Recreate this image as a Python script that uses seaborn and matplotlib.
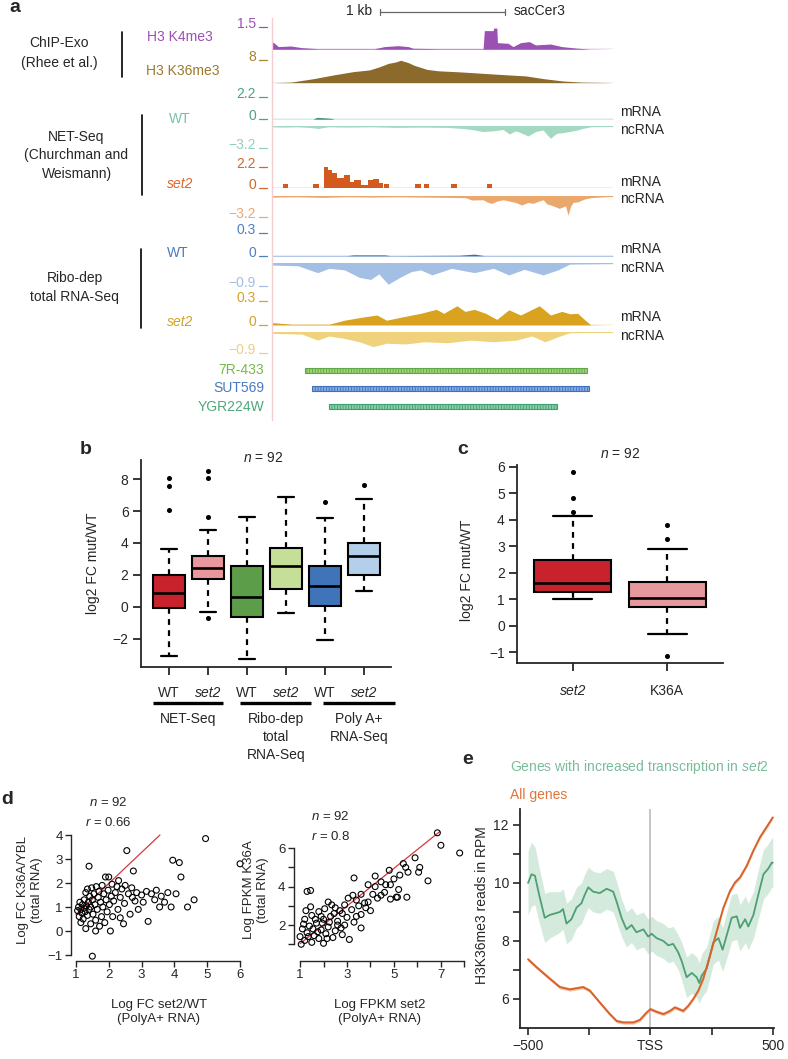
import numpy as np
import pandas as pd
import matplotlib
matplotlib.use("Agg")
import matplotlib.pyplot as plt
import matplotlib.transforms as mtransforms
from matplotlib.lines import Line2D
import seaborn as sns

sns.set_style("ticks")
plt.rcParams['font.family'] = ['Liberation Sans', 'DejaVu Sans']
plt.rcParams['mathtext.fontset'] = 'custom'
plt.rcParams['mathtext.rm'] = 'Liberation Sans'
plt.rcParams['mathtext.it'] = 'Liberation Sans:italic'
plt.rcParams['axes.linewidth'] = 1.3
plt.rcParams['xtick.major.width'] = 1.2
plt.rcParams['ytick.major.width'] = 1.2
plt.rcParams['hatch.linewidth'] = 0.6

# ---------------- data: panel a (genome browser tracks, positions in kb) ----------------
k4me3_kb = [0.00, 0.02, 0.05, 0.15, 0.24, 0.37, 0.82, 0.90, 1.01, 1.09, 1.13, 1.35, 1.69, 1.70,
            1.77, 1.775, 1.80, 1.805, 1.89, 1.93, 1.99, 2.06, 2.11, 2.23, 2.32, 2.45, 2.54, 2.73]
k4me3_val = [0.51, 0.40, 0.18, 0.22, 0.11, 0.04, 0.04, 0.18, 0.24, 0.18, 0.07, 0.04, 0.04, 1.24,
             1.24, 1.41, 1.41, 0.44, 0.40, 0.18, 0.44, 0.51, 0.29, 0.35, 0.18, 0.07, 0.02, 0.00]
k36me3_kb = [0.00, 0.15, 0.33, 0.50, 0.65, 0.78, 0.86, 0.93, 0.99, 1.03, 1.09, 1.14, 1.24, 1.33,
             1.51, 1.69, 1.87, 2.03, 2.18, 2.33, 2.48, 2.63, 2.73]
k36me3_val = [0.0, 0.2, 1.4, 2.8, 3.9, 4.5, 5.6, 6.8, 7.3, 7.9, 7.1, 6.1, 4.7, 4.2,
              3.8, 3.3, 2.8, 2.4, 1.4, 0.6, 0.2, 0.1, 0.0]
net_wt_pos_kb = [0.0, 0.33, 0.36, 0.42, 0.47, 0.50, 2.73]
net_wt_pos_val = [0.02, 0.02, 0.20, 0.15, 0.10, 0.02, 0.02]
net_wt_neg_kb = [0.0, 0.10, 0.20, 0.30, 0.37, 0.45, 0.60, 0.80, 1.00, 1.20, 1.40, 1.51, 1.60, 1.69,
                 1.78, 1.85, 1.90, 1.95, 1.99, 2.05, 2.11, 2.17, 2.20, 2.23, 2.26, 2.28, 2.33, 2.39,
                 2.44, 2.48, 2.55, 2.73]
net_wt_neg_val = [-0.1, -0.15, -0.1, -0.2, -0.35, -0.1, -0.15, -0.1, -0.2, -0.15, -0.2, -0.33, -0.5,
                  -0.8, -0.67, -0.5, -1.15, -0.7, -0.95, -1.43, -0.8, -0.57, -1.2, -1.77, -1.3,
                  -1.05, -0.95, -0.76, -0.6, -0.38, -0.1, -0.05]
net_set2_pos_kb = [0.0, 0.09, 0.13, 0.33, 0.38, 0.42, 0.45, 0.48, 0.52, 0.58, 0.625, 0.655, 0.715,
                   0.765, 0.81, 0.855, 0.885, 0.90, 0.94, 1.145, 1.19, 1.215, 1.255, 1.435, 1.485,
                   1.72, 1.76, 2.73]
net_set2_pos_val = [0, 0.38, 0, 0.38, 0, 2.2, 1.85, 1.5, 0.98, 1.33, 0.63, 0.8, 0.28, 0.8, 0.87,
                    0.52, 0, 0.35, 0, 0.35, 0, 0.35, 0, 0.35, 0, 0.35, 0, 0]
net_set2_neg_kb = [0.0, 0.2, 0.4, 0.6, 0.8, 1.0, 1.2, 1.4, 1.55, 1.60, 1.69, 1.73, 1.76, 1.80, 1.85,
                   1.90, 1.95, 2.0, 2.05, 2.09, 2.12, 2.17, 2.20, 2.25, 2.30, 2.35, 2.37, 2.39, 2.41,
                   2.45, 2.50, 2.55, 2.73]
net_set2_neg_val = [-0.2, -0.15, -0.25, -0.15, -0.2, -0.15, -0.2, -0.25, -0.3, -0.64, -0.6, -1.0,
                    -1.13, -0.8, -0.6, -0.8, -1.0, -1.38, -1.0, -1.13, -0.9, -0.6, -1.2, -1.5, -1.87,
                    -1.5, -2.9, -1.6, -1.0, -0.9, -0.5, -0.3, -0.05]
ribo_wt_pos_kb = [0.0, 0.6, 0.65, 0.9, 0.95, 1.5, 1.62, 1.7, 2.73]
ribo_wt_pos_val = [0.005, 0.005, 0.015, 0.015, 0.005, 0.01, 0.025, 0.005, 0.005]
ribo_wt_neg_kb = [0.0, 0.21, 0.30, 0.365, 0.457, 0.58, 0.70, 0.79, 0.855, 0.93, 1.023, 1.115, 1.19,
                  1.28, 1.437, 1.62, 1.773, 1.896, 2.02, 2.17, 2.29, 2.385, 2.73]
ribo_wt_neg_val = [-0.07, -0.1, -0.26, -0.37, -0.2, -0.26, -0.56, -0.64, -0.42, -0.83, -0.56, -0.33,
                   -0.26, -0.46, -0.2, -0.37, -0.2, -0.46, -0.24, -0.46, -0.26, -0.03, -0.01]
ribo_set2_pos_kb = [0.0, 0.16, 0.457, 0.58, 0.73, 0.84, 0.917, 1.04, 1.19, 1.315, 1.375, 1.48, 1.545,
                    1.62, 1.71, 1.80, 1.896, 1.99, 2.14, 2.23, 2.32, 2.385, 2.447, 2.508, 2.55, 2.73]
ribo_set2_pos_val = [0.03, 0.01, 0.01, 0.06, 0.10, 0.125, 0.06, 0.10, 0.146, 0.196, 0.146, 0.24,
                     0.17, 0.196, 0.146, 0.07, 0.19, 0.125, 0.24, 0.125, 0.17, 0.14, 0.146, 0.06,
                     0.004, 0.0]
ribo_set2_neg_kb = [0.0, 0.24, 0.365, 0.457, 0.58, 0.70, 0.81, 0.917, 1.07, 1.22, 1.406, 1.59, 1.773,
                    1.957, 2.08, 2.186, 2.29, 2.385, 2.73]
ribo_set2_neg_val = [-0.07, -0.1, -0.35, -0.18, -0.28, -0.42, -0.62, -0.48, -0.51, -0.42, -0.46,
                     -0.35, -0.42, -0.35, -0.18, -0.42, -0.21, -0.04, -0.01]
gene_names = ["7R-433", "SUT569", "YGR224W"]
gene_start_kb = [0.264, 0.320, 0.456]
gene_end_kb = [2.52, 2.54, 2.28]
region_kb = 2.73
scalebar_kb = (0.864, 1.864)

# ---------------- data: panel b / c (box statistics) ----------------
b_labels = ["WT", "set2", "WT", "set2", "WT", "set2"]
b_groups = ["NET-Seq", "Ribo-dep\ntotal\nRNA-Seq", "Poly A+\nRNA-Seq"]
b_q1 = [-0.10, 1.72, -0.67, 1.10, 0.03, 1.99]
b_med = [0.88, 2.40, 0.63, 2.58, 1.30, 3.20]
b_q3 = [1.99, 3.20, 2.58, 3.67, 2.55, 4.00]
b_whislo = [-3.07, -0.35, -3.30, -0.42, -2.10, 1.00]
b_whishi = [3.60, 4.82, 5.60, 6.87, 5.55, 6.77]
b_fliers = [[6.1, 7.6, 8.1], [-0.7, 5.6, 8.1, 8.55], [], [], [6.55], [7.65]]

c_labels = ["set2", "K36A"]
c_q1 = [1.28, 0.69]
c_med = [1.62, 1.03]
c_q3 = [2.48, 1.66]
c_whislo = [1.00, -0.30]
c_whishi = [4.15, 2.88]
c_fliers = [[4.3, 4.8, 5.8], [3.28, 3.8, -1.13]]

# ---------------- data: panel d (scatter) ----------------
d1_x = [1.05, 1.08, 1.10, 1.12, 1.15, 1.18, 1.20, 1.22, 1.25, 1.25, 1.28, 1.30, 1.32, 1.35, 1.35,
        1.38, 1.40, 1.40, 1.42, 1.45, 1.45, 1.48, 1.50, 1.50, 1.52, 1.55, 1.58, 1.60, 1.62, 1.65,
        1.68, 1.70, 1.72, 1.75, 1.78, 1.80, 1.82, 1.85, 1.88, 1.90, 1.92, 1.95, 1.98, 2.00, 2.02,
        2.05, 2.08, 2.10, 2.12, 2.15, 2.20, 2.25, 2.28, 2.30, 2.35, 2.40, 2.45, 2.48, 2.50, 2.55,
        2.60, 2.65, 2.70, 2.72, 2.75, 2.80, 2.85, 2.90, 3.00, 3.05, 3.15, 3.20, 3.30, 3.40, 3.45,
        3.55, 3.60, 3.70, 3.80, 3.90, 3.95, 4.05, 4.15, 4.20, 4.40, 4.60, 4.95, 6.00, 1.15, 1.30,
        1.60, 2.35]
d1_y = [0.85, 1.00, 0.60, 1.20, 0.90, 0.75, 1.10, 0.50, 1.30, 0.95, 0.80, 1.60, 1.05, 0.65, 1.75,
        1.20, 0.90, 2.70, 1.45, 0.30, 1.00, 1.80, -1.05, 1.30, 0.70, 1.55, 1.10, 0.45, 1.85, 0.90,
        1.40, 1.65, 0.20, 1.20, 0.60, 1.90, 1.00, 1.55, 0.35, 2.25, 1.30, 0.80, 1.70, 2.25, 1.10,
        0.00, 1.45, 1.95, 0.60, 1.25, 1.60, 1.85, 0.90, 2.10, 1.40, 1.75, 0.30, 1.15, 1.90, 3.35,
        1.55, 0.70, 1.80, 1.40, 2.50, 1.25, 1.60, 0.90, 1.50, 1.20, 1.65, 0.40, 1.55, 1.30, 1.70,
        1.00, 1.45, 1.20, 1.60, 1.00, 2.95, 1.55, 2.85, 2.25, 1.00, 1.30, 3.85, 2.80, 0.35, 0.10,
        0.00, 0.55]
d1_fit = (-0.61, 1.295)   # intercept, slope
d1_fit_x = [1.0, 3.56]

d2_x = [6.85, 7.00, 7.80, 5.90, 6.10, 5.50, 5.60, 6.05, 5.25, 4.80, 6.45, 3.30, 4.20, 4.45, 4.65,
        4.85, 5.20, 1.30, 1.45, 4.10, 4.45, 5.10, 5.15, 5.55, 3.40, 4.85, 2.20, 3.90, 3.50, 2.50,
        3.20, 4.00, 1.80, 2.80, 3.60, 1.50, 2.30, 3.00, 1.20, 2.00, 2.60, 3.30, 1.70, 2.90, 1.40,
        2.20, 3.60, 1.10, 1.90, 2.50, 1.30, 2.10, 2.80, 1.60, 1.00, 2.40, 1.80, 1.20, 3.10, 1.50,
        2.00, 1.05, 2.70, 1.25, 3.75, 4.30, 2.35, 1.90, 3.05, 3.90, 5.00, 2.60, 1.55, 2.45, 3.40,
        1.15, 1.75, 2.25, 3.25, 4.60, 1.35, 2.05, 2.90, 3.60, 1.65, 2.75, 1.45, 2.15, 3.80, 1.95,
        4.20, 5.40]
d2_y = [6.80, 6.15, 5.75, 5.50, 5.00, 5.00, 4.75, 4.75, 4.60, 4.85, 4.30, 4.45, 4.00, 4.25, 4.10,
        4.10, 3.85, 3.75, 3.80, 3.60, 3.55, 3.45, 3.45, 3.45, 3.30, 3.35, 3.20, 3.20, 3.00, 2.90,
        2.80, 2.75, 2.70, 2.60, 2.55, 2.50, 2.45, 2.40, 2.30, 2.30, 2.20, 2.15, 2.10, 2.00, 1.95,
        1.90, 1.85, 1.80, 1.75, 1.70, 1.60, 1.55, 1.50, 1.45, 1.40, 1.35, 1.30, 1.20, 1.25, 1.10,
        1.05, 1.00, 2.75, 2.75, 3.15, 3.40, 3.05, 2.45, 3.40, 4.10, 4.40, 2.00, 1.80, 2.60, 2.45,
        2.05, 1.65, 2.15, 3.55, 3.70, 1.40, 2.85, 3.05, 3.60, 2.30, 1.85, 2.95, 1.30, 2.90, 2.10,
        4.55, 5.20]
d2_fit = (0.05, 0.98)
d2_fit_x = [1.0, 6.95]

# ---------------- data: panel e (metagene profiles) ----------------
e_green_x = [-500, -486, -472, -455, -432, -411, -390, -370, -357, -343, -323, -302, -282, -268,
             -254, -234, -207, -179, -152, -138, -118, -98, -77, -57, -29, -9, 5, 25, 53, 73, 93,
             114, 128, 148, 169, 189, 200, 209, 230, 257, 278, 295, 312, 332, 353, 366, 387, 400,
             421, 441, 462, 482, 496, 500]
e_green_y = [10.0, 10.3, 10.25, 9.6, 8.8, 8.9, 8.95, 9.0, 9.1, 8.6, 8.75, 9.15, 9.3, 9.6, 9.85, 9.7,
             9.65, 9.8, 9.7, 9.35, 8.8, 8.4, 8.55, 8.3, 8.4, 8.15, 8.25, 8.1, 8.0, 7.85, 7.9, 7.6,
             7.3, 6.75, 6.9, 6.75, 6.55, 6.8, 7.05, 7.95, 8.1, 7.7, 8.2, 8.8, 8.85, 8.45, 8.75, 8.5,
             8.9, 9.6, 10.3, 10.5, 10.7, 10.7]
e_green_err = [1.1, 1.1, 1.0, 0.95, 0.85, 0.8, 0.75, 0.7, 0.7, 0.7, 0.7, 0.7, 0.7, 0.7, 0.7, 0.7,
               0.7, 0.7, 0.7, 0.7, 0.65, 0.6, 0.6, 0.6, 0.6, 0.6, 0.6, 0.6, 0.6, 0.6, 0.6, 0.6,
               0.65, 0.7, 0.7, 0.7, 0.7, 0.75, 0.75, 0.75, 0.75, 0.75, 0.8, 0.8, 0.8, 0.8, 0.8,
               0.8, 0.8, 0.85, 0.85, 0.85, 0.85, 0.85]
e_orange_x = [-500, -466, -411, -370, -329, -275, -248, -207, -166, -138, -111, -70, -43, -16, 0,
              25, 53, 80, 100, 134, 155, 175, 196, 216, 244, 271, 298, 325, 346, 366, 394, 421,
              448, 475, 500]
e_orange_y = [7.37, 7.1, 6.7, 6.41, 6.33, 6.41, 6.29, 5.88, 5.48, 5.24, 5.19, 5.19, 5.28, 5.53,
              5.65, 5.56, 5.48, 5.59, 5.71, 5.59, 5.77, 6.0, 6.29, 6.7, 7.51, 8.33, 9.14, 9.72,
              10.02, 10.19, 10.6, 11.12, 11.58, 11.93, 12.26]
e_orange_err = 0.06
e_xticks = [-500, -250, 0, 250, 500]
e_xticklabels = ["\u2212500", "", "TSS", "", "500"]

# ---------------- figure helpers ----------------
W, H = 788, 1059
fig = plt.figure(figsize=(W / 100, H / 100), dpi=100)


def pax(x0, y0, x1, y1):
    ax = fig.add_axes([x0 / W, 1 - y1 / H, (x1 - x0) / W, (y1 - y0) / H])
    ax.set_facecolor('none')
    return ax


def ftext(x, y, s, **kw):
    kw.setdefault('ha', 'center')
    kw.setdefault('va', 'center')
    return fig.text(x / W, 1 - y / H, s, **kw)


def fline(xs, ys, **kw):
    fig.add_artist(Line2D([x / W for x in xs], [1 - y / H for y in ys], **kw))


FS_A = 10
# ---------------- panel a ----------------
TX0, TX1 = 272, 613
tracks = [
    # kb, val, top_px, bottom_px, ylim, fill colour, (top label, colour), (bottom label, colour)
    (k4me3_kb, k4me3_val, 26.7, 49.3, (0, 1.5), '#9b50b4', ('1.5', '#9b50b4'), None),
    (k36me3_kb, k36me3_val, 60.0, 82.7, (0, 8), '#8b6a2c', ('8', '#a5842f'), None),
    (net_wt_pos_kb, net_wt_pos_val, 97.3, 119.3, (0, 2.2), '#3f9c78', ('2.2', '#4ea382'), ('0', '#4ea382')),
    (net_wt_neg_kb, net_wt_neg_val, 126.0, 148.3, (-3.2, 0), '#a3d8c2', None, ('\u22123.2', '#93d0b9')),
    (net_set2_pos_kb, net_set2_pos_val, 166.7, 187.7, (0, 2.2), '#d35a1f', ('2.2', '#d0692f'), ('0', '#d0692f')),
    (net_set2_neg_kb, net_set2_neg_val, 195.7, 217.3, (-3.2, 0), '#eba86c', None, ('\u22123.2', '#eaa979')),
    (ribo_wt_pos_kb, ribo_wt_pos_val, 233.3, 256.0, (0, 0.3), '#3a6fb8', ('0.3', '#4f7fc1'), ('0', '#4f7fc1')),
    (ribo_wt_neg_kb, ribo_wt_neg_val, 263.3, 286.0, (-0.9, 0), '#a3c0e4', None, ('\u22120.9', '#a3bfe3')),
    (ribo_set2_pos_kb, ribo_set2_pos_val, 301.0, 325.0, (0, 0.3), '#d9a21f', ('0.3', '#d4a12a'), ('0', '#d4a12a')),
    (ribo_set2_neg_kb, ribo_set2_neg_val, 331.7, 353.3, (-0.9, 0), '#f0d27d', None, ('\u22120.9', '#eccf86')),
]
step_tracks = {id(net_set2_pos_kb)}
for kb, val, y0, y1, lim, col, toplab, botlab in tracks:
    ax = pax(TX0, y0, TX1, y1)
    step = 'post' if id(kb) in step_tracks else None
    ax.fill_between(kb, 0, val, color=col, lw=0, step=step)
    ax.axhline(0, color=col, lw=0.9)
    ax.set_xlim(0, region_kb)
    ax.set_ylim(*lim)
    ax.axis('off')
    for lab, ypx in ((toplab, y0), (botlab, y1)):
        if lab is None:
            continue
        ftext(256, ypx + 1, lab[0], ha='right', va='baseline', color=lab[1], fontsize=FS_A)
        fline([259, 267], [ypx, ypx], color=lab[1], lw=0.9)

# gene annotations
axg = pax(TX0, 361.2, TX1, 415.8)
gene_fc = ['#9fd07f', '#86a9de', '#8ccdab']
gene_ec = ['#5fa842', '#3f6fbd', '#41a070']
gene_tc = ['#78b84a', '#4a78c2', '#4ca87a']
for i, (nm, s0, s1) in enumerate(zip(gene_names, gene_start_kb, gene_end_kb)):
    axg.barh(i, s1 - s0, left=s0, height=0.3, facecolor=gene_fc[i], edgecolor=gene_ec[i],
             hatch='||||||', lw=0.8)
    ftext(264, 370.3 + 18.2 * i, nm, ha='right', color=gene_tc[i], fontsize=FS_A)
axg.set_xlim(0, region_kb)
axg.set_ylim(2.5, -0.5)
axg.axis('off')

# browser furniture
fline([271.5, 271.5], [18, 420], color='#f4cdd0', lw=1.0)
sb_px = [TX0 + (TX1 - TX0) * k / region_kb for k in scalebar_kb]
fline(sb_px, [12, 12], color='#666666', lw=0.9)
fline([sb_px[0], sb_px[0]], [9, 15], color='#666666', lw=0.9)
fline([sb_px[1], sb_px[1]], [9, 15], color='#666666', lw=0.9)
ftext(sb_px[0] - 8, 11, "1 kb", ha='right', fontsize=FS_A)
ftext(sb_px[1] + 9, 11, "sacCer3", ha='left', fontsize=FS_A)

ftext(59, 43.3, "ChIP-Exo", fontsize=FS_A)
ftext(59, 62.5, "(Rhee et al.)", fontsize=FS_A)
fline([121.7, 121.7], [31.7, 77.3], color='black', lw=1.2)
ftext(180, 36.7, "H3 K4me3", color='#9b50b4', fontsize=FS_A)
ftext(183, 70.7, "H3 K36me3", color='#9a7a2c', fontsize=FS_A)
ftext(76.5, 136.7, "NET-Seq", fontsize=FS_A)
ftext(76.5, 155.3, "(Churchman and", fontsize=FS_A)
ftext(76.5, 174, "Weismann)", fontsize=FS_A)
fline([141.6, 141.6], [115, 195], color='black', lw=1.2)
ftext(180, 119, "WT", color='#72c2a2', fontsize=FS_A)
ftext(180, 184.3, "set2", color='#d9662e', fontsize=FS_A, style='italic')
ftext(74.6, 278, "Ribo-dep", fontsize=FS_A)
ftext(74.6, 296.5, "total RNA-Seq", fontsize=FS_A)
fline([140.8, 140.8], [249.3, 328.3], color='black', lw=1.2)
ftext(178, 253.3, "WT", color='#4a78c2', fontsize=FS_A)
ftext(180, 321.7, "set2", color='#d4a12a', fontsize=FS_A, style='italic')
for ym, yn in ((112, 130), (182, 199), (249, 268), (317, 336)):
    ftext(620, ym, "mRNA", ha='left', fontsize=FS_A)
    ftext(620, yn, "ncRNA", ha='left', fontsize=FS_A)

# ---------------- panel b ----------------
FS_B = 10
box_kw = dict(patch_artist=True, showfliers=True,
              boxprops=dict(edgecolor='black', linewidth=1.5),
              medianprops=dict(color='black', linewidth=1.9),
              whiskerprops=dict(color='black', linewidth=1.6, linestyle=(0, (2.6, 2.4))),
              capprops=dict(color='black', linewidth=1.6),
              flierprops=dict(marker='o', markerfacecolor='black', markeredgecolor='black',
                              markersize=2.6))
axb = pax(141, 460, 391, 666.7)
b_stats = [dict(med=m, q1=a, q3=c, whislo=lo, whishi=hi, fliers=f, label=l)
           for m, a, c, lo, hi, f, l in zip(b_med, b_q1, b_q3, b_whislo, b_whishi, b_fliers, b_labels)]
b_colors = ['#c8232c', '#e8989c', '#5b9d48', '#c6df98', '#3f74b9', '#b4cfe9']
bp = axb.bxp(b_stats, positions=range(len(b_stats)), widths=0.81, capwidths=0.4, **box_kw)
for patch, col in zip(bp['boxes'], b_colors):
    patch.set_facecolor(col)
axb.set_xlim(-0.72, 5.69)
axb.set_ylim(-3.77, 9.21)
axb.set_yticks([-2, 0, 2, 4, 6, 8])
axb.set_yticklabels(['\u22122', '0', '2', '4', '6', '8'])
axb.set_xticks(range(6))
axb.set_xticklabels(b_labels)
for t in axb.get_xticklabels():
    if t.get_text() == 'set2':
        t.set_style('italic')
axb.tick_params(axis='both', labelsize=FS_B, length=6, width=1.3, pad=3)
axb.tick_params(axis='x', pad=8)
sns.despine(ax=axb)
trb = mtransforms.blended_transform_factory(axb.transData, axb.transAxes)
ya = (666.7 - 703) / (666.7 - 460)
for (gx0, gx1), glab in zip([(-0.42, 1.38), (1.82, 3.65), (3.95, 5.79)], b_groups):
    axb.plot([gx0, gx1], [ya, ya], transform=trb, color='black', lw=2.4, clip_on=False,
             solid_capstyle='butt')
    axb.text((gx0 + gx1) / 2, ya - 0.045, glab, transform=trb, ha='center', va='top',
             fontsize=FS_B, linespacing=1.35)
ftext(93, 563, "log2 FC mut/WT", rotation=90, fontsize=FS_B)
ftext(263, 458, r"$n$ = 92", fontsize=FS_B)

# ---------------- panel c ----------------
axc = pax(517.3, 465, 722.7, 662.7)
c_stats = [dict(med=m, q1=a, q3=c, whislo=lo, whishi=hi, fliers=f, label=l)
           for m, a, c, lo, hi, f, l in zip(c_med, c_q1, c_q3, c_whislo, c_whishi, c_fliers, c_labels)]
c_colors = ['#c8232c', '#e6999d']
bpc = axc.bxp(c_stats, positions=range(2), widths=0.81, capwidths=0.41, **box_kw)
for patch, col in zip(bpc['boxes'], c_colors):
    patch.set_facecolor(col)
axc.set_xlim(-0.586, 1.586)
axc.set_ylim(-1.4, 6.06)
axc.set_yticks(range(-1, 7))
axc.set_yticklabels(['\u22121', '0', '1', '2', '3', '4', '5', '6'])
axc.set_xticks(range(2))
axc.set_xticklabels(c_labels)
axc.get_xticklabels()[0].set_style('italic')
axc.tick_params(axis='both', labelsize=FS_B, length=6, width=1.3, pad=3)
axc.tick_params(axis='x', pad=9)
sns.despine(ax=axc)
ftext(467, 570, "log2 FC mut/WT", rotation=90, fontsize=FS_B)
ftext(620, 454, r"$n$ = 92", fontsize=FS_B)

# ---------------- panel d ----------------
FS_D = 9
for (xs, ys, fit, fitx, box, xlim, ylim, xt, xtl, yt, ytl, ylab, xlab, ntxt, rtxt, ylabx, ny) in [
    (d1_x, d1_y, d1_fit, d1_fit_x, (71, 833.8, 246.6, 961), (0.85, 6.2), (-1.25, 4.05),
     [1, 2, 3, 4, 5, 6], ['1', '2', '3', '4', '5', '6'],
     [-1, 0, 1, 2, 3, 4], ['\u22121', '0', '1', '2', '3', '4'],
     "Log FC K36A/YBL\n(total RNA)", "Log FC set2/WT\n(PolyA+ RNA)",
     r"$n$ = 92", r"$r$ = 0.66", 30, 803),
    (d2_x, d2_y, d2_fit, d2_fit_x, (293.7, 828, 466, 961), (0.73, 8.07), (0.13, 7.05),
     [1, 2, 3, 4, 5, 6, 7, 8], ['1', '', '3', '', '5', '', '7', ''],
     [1, 2, 3, 4, 5, 6], ['', '2', '', '4', '', '6'],
     "Log FPKM K36A\n(total RNA)", "Log FPKM set2\n(PolyA+ RNA)",
     r"$n$ = 92", r"$r$ = 0.8", 256, 817)]:
    ax = pax(*box)
    sns.scatterplot(x=xs, y=ys, ax=ax, s=18, marker='o', linewidth=0.8, zorder=3)
    coll = ax.collections[-1]
    coll.set_facecolor('none')
    coll.set_edgecolor('black')
    fy = [fit[0] + fit[1] * v for v in fitx]
    ax.plot(fitx, fy, color='#d23a3f', lw=0.9, zorder=2)
    ax.set_xlim(*xlim)
    ax.set_ylim(*ylim)
    ax.set_xticks(xt)
    ax.set_xticklabels(xtl)
    ax.set_yticks(yt)
    ax.set_yticklabels(ytl)
    ax.tick_params(axis='both', labelsize=FS_D + 0.5, length=4, width=1.0, pad=2)
    for s in ('top', 'right'):
        ax.spines[s].set_visible(False)
    ax.spines['left'].set_bounds(yt[0], yt[-1])
    ax.spines['bottom'].set_bounds(xt[0], xt[-1])
    ax.spines['left'].set_linewidth(1.0)
    ax.spines['bottom'].set_linewidth(1.0)
    cx = (box[0] + box[2]) / 2
    ftext(cx, 1012, xlab, fontsize=FS_D + 0.5, linespacing=1.3)
    ftext(ylabx, 890, ylab, rotation=90, fontsize=FS_D + 0.5, linespacing=1.3)
    ftext(box[0] + 37, ny, ntxt, fontsize=FS_D + 0.5)
    ftext(box[0] + 37, ny + 20, rtxt, fontsize=FS_D + 0.5)

# ---------------- panel e ----------------
axe = pax(520, 809, 773.5, 1028)
g_lo = [y - e for y, e in zip(e_green_y, e_green_err)]
g_hi = [y + e for y, e in zip(e_green_y, e_green_err)]
axe.fill_between(e_green_x, g_lo, g_hi, color='#d3eadd', lw=0)
o_lo = [y - e_orange_err for y in e_orange_y]
o_hi = [y + e_orange_err for y in e_orange_y]
axe.fill_between(e_orange_x, o_lo, o_hi, color='#f3c5aa', lw=0)
axe.axvline(0, color='#b5b5b5', lw=1.1, zorder=1)
sns.lineplot(x=e_green_x, y=e_green_y, ax=axe, color='#4f9f74', lw=1.3)
sns.lineplot(x=e_orange_x, y=e_orange_y, ax=axe, color='#d9622b', lw=1.4)
axe.set_xlim(-533, 503)
axe.set_ylim(5.0, 12.55)
axe.set_xticks(e_xticks)
axe.set_xticklabels(e_xticklabels)
axe.set_yticks([6, 7, 8, 9, 10, 11, 12])
axe.set_yticklabels(['6', '', '8', '', '10', '', '12'])
axe.tick_params(axis='both', labelsize=FS_B, length=5, width=1.2, pad=3)
sns.despine(ax=axe)
ftext(482, 905, "H3K36me3 reads in RPM", rotation=90, fontsize=FS_B)
ftext(510, 767, r"Genes with increased transcription in $set2$", ha='left', color='#79bc9c',
      fontsize=FS_B)
ftext(510, 795, "All genes", ha='left', color='#e0743a', fontsize=FS_B)

# ---------------- panel letters ----------------
for lt, x, y in (('a', 15, 8), ('b', 86, 450), ('c', 463, 450), ('d', 7, 800), ('e', 468, 760)):
    ftext(x, y, lt, fontsize=14, fontweight='bold')

fig.savefig("out.png", dpi=100)
